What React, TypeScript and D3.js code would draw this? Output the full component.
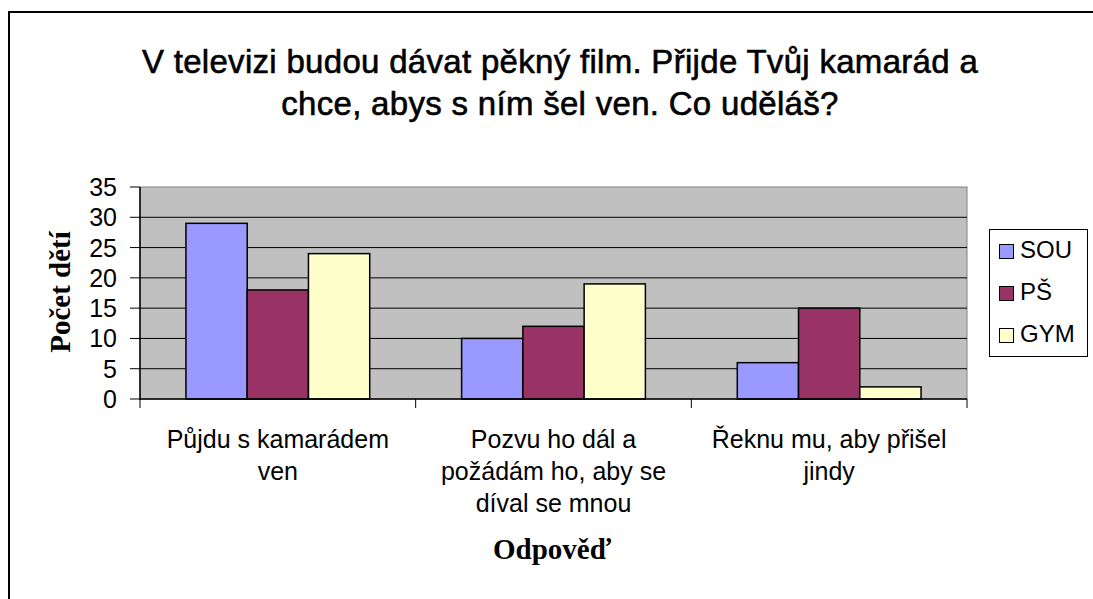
import React from "react";
import * as d3 from "d3";

const categories: string[][] = [
  ["Půjdu s kamarádem", "ven"],
  ["Pozvu ho dál a", "požádám ho, aby se", "díval se mnou"],
  ["Řeknu mu, aby přišel", "jindy"],
];
const seriesNames = ["SOU", "PŠ", "GYM"];
const seriesColors = ["#9999FF", "#993366", "#FFFFCC"];
const souValues = [29, 10, 6];
const psValues = [18, 12, 15];
const gymValues = [24, 19, 2];
const yTicks = [0, 5, 10, 15, 20, 25, 30, 35];
const titleLines = [
  "V televizi budou dávat pěkný film. Přijde Tvůj kamarád a",
  "chce, abys s ním šel ven. Co uděláš?",
];

export default function App() {
  const W = 1093, H = 599;
  const left = 140, right = 967, top = 187, bottom = 399;
  const series = [souValues, psValues, gymValues];
  const x0 = d3.scaleBand<number>().domain(categories.map((_, i) => i)).range([left, right]).paddingInner(0).paddingOuter(0);
  const bw = x0.bandwidth() / 4.5;
  const y = d3.scaleLinear().domain([0, 35]).range([bottom, top]);
  const sans = "Arial, 'Liberation Sans', sans-serif";
  const serif = "'Times New Roman', 'Liberation Serif', serif";

  return (
    <svg width={W} height={H} style={{ position: "absolute", left: 0, top: 0, background: "#fff" }}>
      <rect x={9} y={12} width={W + 20} height={H + 20} fill="#fff" stroke="#000" strokeWidth={2} />
      {titleLines.map((t, i) => (
        <text key={i} x={560} y={73 + i * 42} textAnchor="middle" fontFamily={sans} fontSize={33} letterSpacing={0.3}
          fill="#000" stroke="#000" strokeWidth={0.6}>{t}</text>
      ))}
      <rect x={left} y={top} width={right - left} height={bottom - top} fill="#C0C0C0" stroke="#808080" strokeWidth={1} />
      {yTicks.map((t) => (
        <g key={t}>
          {t > 0 && t < 35 && <line x1={left} x2={right} y1={y(t)} y2={y(t)} stroke="#000" strokeWidth={1} />}
          <line x1={left - 10} x2={left} y1={y(t)} y2={y(t)} stroke="#000" strokeWidth={1} />
          <text x={117} y={y(t) + 9} textAnchor="end" fontFamily={sans} fontSize={25} fill="#000">{t}</text>
        </g>
      ))}
      {categories.map((_, ci) =>
        series.map((vals, si) => {
          const bx = (x0(ci) as number) + bw * 0.75 + si * bw;
          return (
            <rect key={ci + "-" + si} x={bx} y={y(vals[ci])} width={bw} height={y(0) - y(vals[ci])}
              fill={seriesColors[si]} stroke="#000" strokeWidth={1.5} />
          );
        })
      )}
      <line x1={left} x2={left} y1={top} y2={bottom + 1} stroke="#000" strokeWidth={1.5} />
      <line x1={left} x2={right} y1={bottom} y2={bottom} stroke="#000" strokeWidth={1.5} />
      {[0, 1, 2, 3].map((i) => {
        const xx = i < 3 ? (x0(i) as number) : right;
        return <line key={i} x1={xx} x2={xx} y1={bottom} y2={bottom + 9} stroke="#000" strokeWidth={1} />;
      })}
      {categories.map((lines, ci) => (
        <text key={ci} textAnchor="middle" fontFamily={sans} fontSize={25} fill="#000">
          {lines.map((l, li) => (
            <tspan key={li} x={(x0(ci) as number) + x0.bandwidth() / 2} y={448 + li * 32}>{l}</tspan>
          ))}
        </text>
      ))}
      <text x={552} y={559} textAnchor="middle" fontFamily={serif} fontWeight="bold" fontSize={29} fill="#000">Odpověď</text>
      <text transform={`translate(70,292) rotate(-90)`} textAnchor="middle" fontFamily={serif} fontWeight="bold" fontSize={29} fill="#000">Počet dětí</text>
      <rect x={989.5} y={229.5} width={98} height={127} fill="#fff" stroke="#000" strokeWidth={1} />
      {seriesNames.map((n, i) => (
        <g key={n}>
          <rect x={999.5} y={244.5 + i * 42} width={14} height={14} fill={seriesColors[i]} stroke="#000" strokeWidth={1} />
          <text x={1020} y={258 + i * 42} fontFamily={sans} fontSize={24} fill="#000">{n}</text>
        </g>
      ))}
    </svg>
  );
}
